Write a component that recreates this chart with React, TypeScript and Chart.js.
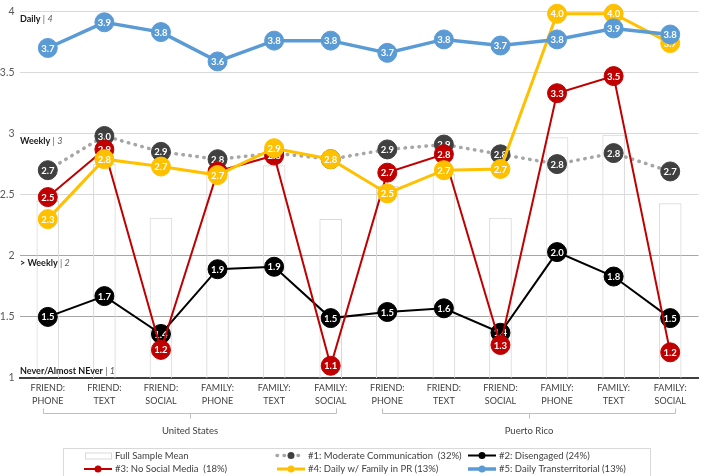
import React, { useEffect, useRef } from 'react';
import { Chart, registerables } from 'chart.js';
Chart.register(...registerables);

const categories: string[][] = [
  ['FRIEND:', 'PHONE'], ['FRIEND:', 'TEXT'], ['FRIEND:', 'SOCIAL'],
  ['FAMILY:', 'PHONE'], ['FAMILY:', 'TEXT'], ['FAMILY:', 'SOCIAL'],
  ['FRIEND:', 'PHONE'], ['FRIEND:', 'TEXT'], ['FRIEND:', 'SOCIAL'],
  ['FAMILY:', 'PHONE'], ['FAMILY:', 'TEXT'], ['FAMILY:', 'SOCIAL'],
];
const groupLabels = ['United States', 'Puerto Rico'];
const groupStarts = [0, 6];
const groupEnds = [5, 11];

const levelValues = [4, 3, 2, 1];
const levelNames = ['Daily', 'Weekly', '> Weekly', 'Never/Almost NEver'];
const levelNums = ['4', '3', '2', '1'];

const fullSampleMean = [2.45, 2.75, 2.31, 2.67, 2.74, 2.30, 2.57, 2.67, 2.31, 2.97, 2.99, 2.43];
const moderate = [2.70, 2.98, 2.85, 2.79, 2.84, 2.79, 2.87, 2.91, 2.83, 2.75, 2.84, 2.69];
const disengaged = [1.50, 1.67, 1.36, 1.89, 1.91, 1.49, 1.54, 1.57, 1.37, 2.03, 1.83, 1.49];
const noSocial = [2.48, 2.87, 1.23, 2.69, 2.82, 1.10, 2.68, 2.83, 1.27, 3.33, 3.47, 1.21];
const dailyFamilyPR = [2.30, 2.79, 2.73, 2.66, 2.88, 2.79, 2.51, 2.70, 2.71, 3.98, 3.98, 3.74];
const transterritorial = [3.70, 3.91, 3.83, 3.59, 3.76, 3.76, 3.66, 3.77, 3.72, 3.77, 3.86, 3.81];

const seriesLabels = [
  'Full Sample Mean',
  '#1: Moderate Communication  (32%)',
  '#2: Disengaged (24%)',
  '#3: No Social Media  (18%)',
  '#4: Daily w/ Family in PR (13%)',
  '#5: Daily Transterritorial (13%)',
];

const FONT = 'Lato, "Noto Sans", sans-serif';

const dataLabelPlugin = {
  id: 'pointLabels',
  afterDatasetDraw(chart: any, args: any) {
    const ds = chart.data.datasets[args.index];
    const ctx = chart.ctx;
    if (ds.type === 'bar') {
      // level annotations sit above the bars but below the lines
      const y = chart.scales.y;
      const left = chart.chartArea.left + 0.5;
      ctx.save();
      ctx.textBaseline = 'middle';
      ctx.textAlign = 'left';
      levelValues.forEach((v, i) => {
        const py = y.getPixelForValue(v) + (v === 1 ? -6.5 : 7.5);
        ctx.font = `bold 9px ${FONT}`;
        ctx.fillStyle = '#1a1a1a';
        const name = levelNames[i];
        ctx.fillText(name, left, py);
        let x = left + ctx.measureText(name).width;
        ctx.font = `9px ${FONT}`;
        ctx.fillStyle = '#595959';
        ctx.fillText(' | ', x, py);
        x += ctx.measureText(' | ').width;
        ctx.font = `italic 9px ${FONT}`;
        ctx.fillText(levelNums[i], x, py);
      });
      ctx.restore();
      return;
    }
    ctx.save();
    ctx.font = `bold 9.5px ${FONT}`;
    ctx.fillStyle = '#ffffff';
    ctx.textAlign = 'center';
    ctx.textBaseline = 'middle';
    args.meta.data.forEach((pt: any, i: number) => {
      const v = ds.data[i] as number;
      ctx.fillText(v.toFixed(1), pt.x, pt.y + 0.5);
    });
    ctx.restore();
  },
};

const groupPlugin = {
  id: 'groups',
  afterDraw(chart: any) {
    const ctx = chart.ctx;
    const x = chart.scales.x;
    ctx.save();
    ctx.strokeStyle = '#bfbfbf';
    ctx.lineWidth = 1;
    groupLabels.forEach((label, g) => {
      const x0 = Math.round(x.getPixelForValue(groupStarts[g]) - 5) + 0.5;
      const x1 = Math.round(x.getPixelForValue(groupEnds[g]) + 5) + 0.5;
      const mid = (x0 + x1) / 2;
      const yb = 413.5;
      ctx.beginPath();
      ctx.moveTo(x0, yb - 5);
      ctx.lineTo(x0, yb);
      ctx.lineTo(x1, yb);
      ctx.lineTo(x1, yb - 5);
      ctx.moveTo(Math.round(mid) + 0.5, yb);
      ctx.lineTo(Math.round(mid) + 0.5, yb + 5);
      ctx.stroke();
      ctx.font = `9.5px ${FONT}`;
      ctx.fillStyle = '#404040';
      ctx.textAlign = 'center';
      ctx.textBaseline = 'middle';
      ctx.fillText(label, mid, 431);
    });
    ctx.restore();
  },
};

const legendPlugin = {
  id: 'customLegend',
  afterDraw(chart: any) {
    const ctx = chart.ctx;
    ctx.save();
    ctx.strokeStyle = '#d9d9d9';
    ctx.lineWidth = 1;
    ctx.strokeRect(63.5, 448.5, 587, 40);
    const cols = [84, 277, 468];
    const rows = [455.5, 469];
    chart.data.datasets.forEach((ds: any, i: number) => {
      const cx = cols[i % 3];
      const cy = rows[Math.floor(i / 3)];
      if (ds.type === 'bar') {
        ctx.fillStyle = '#ffffff';
        ctx.strokeStyle = '#d9d9d9';
        ctx.lineWidth = 1;
        ctx.fillRect(cx + 1, cy - 3, 26, 6);
        ctx.strokeRect(cx + 1.5, cy - 2.5, 26, 6);
      } else {
        ctx.strokeStyle = ds.borderColor;
        ctx.lineWidth = ds.borderWidth;
        ctx.lineCap = ds.borderCapStyle || 'butt';
        ctx.setLineDash(ds.borderDash || []);
        ctx.beginPath();
        ctx.moveTo(cx, cy);
        ctx.lineTo(cx + 28, cy);
        ctx.stroke();
        ctx.setLineDash([]);
        ctx.fillStyle = ds.pointBackgroundColor;
        ctx.beginPath();
        ctx.arc(cx + 14, cy, 3.5, 0, Math.PI * 2);
        ctx.fill();
      }
      ctx.font = `9.5px ${FONT}`;
      ctx.fillStyle = '#404040';
      ctx.textAlign = 'left';
      ctx.textBaseline = 'middle';
      ctx.fillText(ds.label, cx + 31, cy);
    });
    ctx.restore();
  },
};

function lineDs(label: string, data: number[], color: string, pointColor: string, width: number, order: number, extra: any = {}) {
  return {
    type: 'line' as const,
    label,
    data,
    borderColor: color,
    borderWidth: width,
    pointBackgroundColor: pointColor,
    pointBorderColor: pointColor,
    pointBorderWidth: 1,
    pointRadius: 9.5,
    pointHoverRadius: 9.5,
    tension: 0,
    fill: false,
    clip: false,
    order,
    ...extra,
  };
}

export default function App() {
  const ref = useRef<HTMLCanvasElement>(null);
  useEffect(() => {
    document.body.style.margin = '0';
    const canvas = ref.current;
    if (!canvas) return;
    const chart = new Chart(canvas, {
      type: 'bar',
      data: {
        labels: categories,
        datasets: [
          {
            type: 'bar',
            label: seriesLabels[0],
            data: fullSampleMean,
            backgroundColor: 'rgba(255,255,255,0)',
            borderColor: '#d9d9d9',
            borderWidth: 1,
            barPercentage: 0.4,
            categoryPercentage: 1,
            order: 10,
          } as any,
          lineDs(seriesLabels[1], moderate, '#a6a6a6', '#404040', 3.5, 6, { borderDash: [0.5, 6.5], borderCapStyle: 'round' }),
          lineDs(seriesLabels[2], disengaged, '#000000', '#000000', 2, 5),
          lineDs(seriesLabels[3], noSocial, '#c00000', '#c00000', 2, 4),
          lineDs(seriesLabels[4], dailyFamilyPR, '#ffc000', '#ffc000', 3, 3),
          lineDs(seriesLabels[5], transterritorial, '#5b9bd5', '#5b9bd5', 3.5, 2),
        ],
      },
      options: {
        responsive: true,
        maintainAspectRatio: false,
        animation: false,
        layout: { padding: { top: 7.5, right: 1.5, left: 0, bottom: 0 } },
        plugins: {
          legend: { display: false },
          tooltip: { enabled: false },
        },
        scales: {
          x: {
            grid: { display: false, drawTicks: false },
            border: { color: '#404040', width: 2 },
            ticks: {
              font: { family: FONT, size: 9, lineHeight: 1.45 },
              color: '#404040',
              padding: 4,
              autoSkip: false,
              maxRotation: 0,
            },
            afterFit: (s: any) => { s.height = 98; },
          },
          y: {
            min: 1,
            max: 4,
            border: { display: false },
            grid: {
              color: (c: any) => {
                const v = c.tick ? c.tick.value : 0;
                if (v === 1) return 'rgba(0,0,0,0)';
                if (v === 1.5 || v === 2) return '#a6a6a6';
                return '#d9d9d9';
              },
              lineWidth: 1,
              drawTicks: false,
            },
            ticks: {
              stepSize: 0.5,
              font: { family: FONT, size: 10.5 },
              color: '#595959',
              padding: 5,
              callback: (v: any) => String(Number(v)),
            },
            afterFit: (s: any) => { s.width = 19.5; },
          },
        },
      },
      plugins: [dataLabelPlugin, groupPlugin, legendPlugin],
    });
    return () => chart.destroy();
  }, []);
  return (
    <div style={{ position: 'relative', width: 709, height: 476 }}>
      <canvas ref={ref} />
    </div>
  );
}
